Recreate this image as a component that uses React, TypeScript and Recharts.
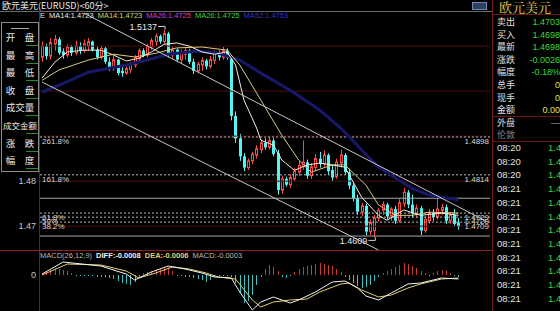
import React from "react";
import { ComposedChart, Bar, Line, XAxis, YAxis, ReferenceLine, ReferenceDot } from "recharts";

// 60-minute EURUSD candles
const opens = [
  1.5075, 1.51, 1.5078, 1.5105, 1.5115, 1.5088, 1.508, 1.5098, 1.5085, 1.51,
  1.509, 1.51, 1.511, 1.5092, 1.5075, 1.5095, 1.5065, 1.505, 1.507, 1.5045,
  1.504, 1.5048, 1.5058, 1.5072, 1.509, 1.508, 1.5098, 1.511, 1.5122, 1.511,
  1.5128, 1.508, 1.5092, 1.507, 1.5082, 1.509, 1.5065, 1.5045, 1.5058, 1.5068,
  1.5055, 1.5068, 1.5085, 1.5075, 1.509, 1.5075, 1.4945, 1.4895, 1.4855, 1.483,
  1.4845, 1.4858, 1.487, 1.4885, 1.4875, 1.489, 1.4862, 1.478, 1.4805, 1.4792,
  1.4805, 1.482, 1.4832, 1.4842, 1.4812, 1.483, 1.485, 1.4838, 1.4858, 1.4825,
  1.481, 1.484, 1.4858, 1.482, 1.479, 1.4762, 1.4732, 1.4745, 1.4688, 1.469,
  1.4718, 1.4735, 1.4748, 1.4722, 1.4738, 1.4712, 1.475, 1.4775, 1.4748, 1.4728,
  1.474, 1.469, 1.4712, 1.473, 1.472, 1.4735, 1.4742, 1.4712, 1.4725, 1.4708,
];
const highs = [
  1.511, 1.5105, 1.5118, 1.5125, 1.512, 1.5095, 1.5105, 1.5102, 1.5112, 1.5108,
  1.5115, 1.5118, 1.5112, 1.5098, 1.5102, 1.5098, 1.5075, 1.5078, 1.5072, 1.5055,
  1.5055, 1.5065, 1.508, 1.5095, 1.5095, 1.5105, 1.5118, 1.5128, 1.5126, 1.5137,
  1.5132, 1.5098, 1.5095, 1.5092, 1.5098, 1.5094, 1.5072, 1.5065, 1.5075, 1.5072,
  1.5078, 1.509, 1.509, 1.5098, 1.5095, 1.508, 1.4955, 1.4905, 1.4862, 1.485,
  1.4865, 1.488, 1.4892, 1.4895, 1.4898, 1.4895, 1.487, 1.4812, 1.481, 1.4815,
  1.483, 1.4845, 1.489, 1.4848, 1.484, 1.486, 1.4865, 1.4868, 1.4862, 1.4835,
  1.485, 1.487, 1.4862, 1.4828, 1.4798, 1.477, 1.4752, 1.475, 1.4715, 1.4725,
  1.474, 1.4755, 1.4752, 1.4742, 1.4745, 1.476, 1.4785, 1.478, 1.477, 1.4748,
  1.4745, 1.4722, 1.4738, 1.4738, 1.4762, 1.475, 1.4748, 1.4732, 1.4738, 1.4718,
];
const lows = [
  1.5065, 1.507, 1.507, 1.509, 1.508, 1.5072, 1.5075, 1.5078, 1.508, 1.5082,
  1.5085, 1.509, 1.5088, 1.507, 1.507, 1.506, 1.5045, 1.5045, 1.5035, 1.5032,
  1.5036, 1.504, 1.5052, 1.5065, 1.5075, 1.5075, 1.5092, 1.51, 1.5105, 1.5105,
  1.5075, 1.5072, 1.5065, 1.5062, 1.507, 1.506, 1.5038, 1.504, 1.5045, 1.5048,
  1.505, 1.506, 1.5068, 1.507, 1.507, 1.4935, 1.4885, 1.4845, 1.4822, 1.4825,
  1.4838, 1.485, 1.4862, 1.487, 1.487, 1.4855, 1.477, 1.4772, 1.4788, 1.4785,
  1.48, 1.4812, 1.4825, 1.4805, 1.4805, 1.4822, 1.483, 1.4832, 1.4815, 1.48,
  1.4805, 1.483, 1.4815, 1.4782, 1.4755, 1.4725, 1.4722, 1.468, 1.468, 1.4675,
  1.471, 1.4725, 1.4715, 1.4712, 1.4705, 1.4708, 1.4742, 1.474, 1.472, 1.472,
  1.468, 1.4685, 1.4705, 1.4712, 1.4715, 1.4725, 1.4705, 1.4705, 1.47, 1.4692,
];
const closes = [
  1.51, 1.5078, 1.5108, 1.5115, 1.5085, 1.508, 1.5098, 1.5085, 1.51, 1.509,
  1.5105, 1.511, 1.5092, 1.5075, 1.5095, 1.5065, 1.505, 1.507, 1.504, 1.504,
  1.505, 1.506, 1.5075, 1.509, 1.508, 1.51, 1.5112, 1.5122, 1.511, 1.5128,
  1.508, 1.5092, 1.507, 1.5085, 1.509, 1.5065, 1.5045, 1.506, 1.5068, 1.5055,
  1.507, 1.5085, 1.5075, 1.509, 1.5075, 1.4945, 1.4895, 1.4855, 1.483, 1.4845,
  1.486, 1.4872, 1.4885, 1.4875, 1.489, 1.486, 1.478, 1.4805, 1.4792, 1.4808,
  1.4822, 1.4835, 1.4842, 1.4812, 1.4832, 1.485, 1.4838, 1.4858, 1.4822, 1.4808,
  1.4842, 1.4858, 1.482, 1.479, 1.4762, 1.4732, 1.4745, 1.4688, 1.4708, 1.4718,
  1.4735, 1.4748, 1.4722, 1.4738, 1.4712, 1.4752, 1.4775, 1.4748, 1.4728, 1.474,
  1.469, 1.4715, 1.473, 1.472, 1.4738, 1.4742, 1.4712, 1.4725, 1.4705, 1.4698,
];

// moving averages: [bar index, price]
const maFast: [number, number][] = [
  [0, 1.5029], [3, 1.5064], [6, 1.5087], [10, 1.5091], [14, 1.5091], [17, 1.508], [20, 1.5067],
  [23, 1.5073], [26, 1.5087], [29, 1.5104], [32, 1.5107], [35, 1.51], [38, 1.5087], [41, 1.5082],
  [44, 1.5087], [46, 1.5058], [48, 1.498], [51, 1.4918], [52, 1.4891], [55, 1.488], [57, 1.4847],
  [60, 1.4824], [63, 1.4836], [66, 1.484], [69, 1.4836], [72, 1.4831], [76, 1.4764], [80, 1.4724],
  [82, 1.4713], [86, 1.4736], [90, 1.4724], [95, 1.4729], [99, 1.4724],
];
const maMid: [number, number][] = [
  [0, 1.5024], [4, 1.5047], [11, 1.5069], [17, 1.5082], [22, 1.5076], [27, 1.5084], [32, 1.5096],
  [38, 1.5098], [44, 1.5091], [47, 1.5058], [52, 1.498], [57, 1.4902], [61, 1.4847], [64, 1.482],
  [69, 1.4836], [72, 1.4836], [77, 1.4791], [80, 1.4747], [84, 1.4724], [88, 1.4724], [92, 1.4731],
  [99, 1.4729],
];
const maSlow: [number, number][] = [
  [0, 1.4998], [4, 1.5013], [11, 1.5042], [20, 1.5058], [25, 1.5069], [30, 1.5082], [37, 1.5089],
  [42, 1.5084], [47, 1.5069], [52, 1.504], [59, 1.5002], [66, 1.4958], [71, 1.4918], [76, 1.4869],
  [80, 1.4831], [88, 1.4784], [92, 1.4769], [99, 1.4758],
];

// MACD(26,12,9)
const diffPts: [number, number][] = [
  [0, 0.0002], [5, 0.0026], [14, 0.0018], [20, 0.0002], [22, -0.001], [26, 0.0006], [30, 0.0018],
  [34, 0.0012], [38, 0.0004], [41, -0.0004], [45, -0.0006], [47, -0.0034], [50, -0.007],
  [52, -0.0054], [55, -0.0044], [59, -0.0056], [61, -0.005], [65, -0.0034], [69, -0.0014],
  [72, -0.0012], [75, -0.0026], [77, -0.0042], [80, -0.005], [83, -0.0036], [87, -0.0018],
  [90, -0.0016], [95, -0.0006], [99, -0.0008],
];
const deaPts: [number, number][] = [
  [0, 0], [6, 0.0022], [14, 0.002], [20, 0.0008], [23, -0.0006], [27, 0.0004], [31, 0.0016],
  [35, 0.0012], [39, 0.0004], [42, -0.0004], [46, -0.0008], [50, -0.005], [52, -0.0064],
  [55, -0.0054], [59, -0.005], [63, -0.0048], [66, -0.0034], [71, -0.0018], [73, -0.0016],
  [76, -0.003], [80, -0.0044], [83, -0.004], [87, -0.0026], [90, -0.0018], [95, -0.0008],
  [99, -0.0006],
];
const hist = [
  0.0004, 0.0008, 0.001, 0.0012, 0.0012, 0.001, 0.0008, 0.0004,
  -0.0002, -0.0002, -0.0002, -0.0002, -0.0002, -0.0004, -0.0004, -0.0004, -0.0006, -0.0008,
  -0.0012, -0.0016, -0.0018, -0.002, -0.0014,
  -0.0004,
  0.0004, 0.0006, 0.0008, 0.001, 0.0012, 0.0014, 0.0016, 0.0008,
  -0.0002, -0.0002, -0.0004, -0.0004, -0.0006, -0.0008, -0.001, -0.0014, -0.001, -0.0004,
  -0.0002, -0.0002, -0.0002, -0.0004,
  -0.0016, -0.0036, -0.0056, -0.0052, -0.004, -0.002,
  -0.0004,
  0.0012, 0.002, 0.0016, 0.0008,
  -0.0004, -0.0006, -0.0002,
  0.0006, 0.0012, 0.0016, 0.0018, 0.002, 0.0022, 0.0024, 0.0022, 0.002, 0.0018, 0.0012, 0.0006,
  -0.0004, -0.001, -0.0016, -0.0022, -0.0026, -0.0024, -0.002, -0.0012, -0.0004,
  0.0004, 0.0008, 0.0012, 0.0016, 0.002, 0.0024, 0.0022, 0.0018, 0.0014, 0.0008, 0.0004,
  -0.0002,
  0.0004, 0.0008, 0.001, 0.0008, 0.0004,
  -0.0002, -0.0004,
];

// Fibonacci levels
const fibDashed = [1.4898, 1.4814, 1.4729, 1.472, 1.4709];
const fibPct = ["261.8%", "161.8%", "61.8%", "50%", "38.2%"];
const fibSolid = [1.4762, 1.4678];
const gridPrices = [1.47, 1.48, 1.49, 1.5, 1.51];
const priceTicks = [1.47, 1.48];

const peak = { i: 29, price: 1.5137, text: "1.5137" };
const trough = { i: 79, price: 1.4675, text: "1.4609" };
const trendUpper = [{ x: 10, y: 1.5173 }, { x: 106, y: 1.4709 }];
const trendLower = [{ x: 0, y: 1.502 }, { x: 80, y: 1.4647 }];

const slots = Array.from({ length: 107 }, (_, i) => i);

const rows: any[] = slots.map((t) => ({
  t,
  range: t < closes.length ? [lows[t], highs[t]] : null,
  open: opens[t],
  high: highs[t],
  low: lows[t],
  close: closes[t],
  hist: hist[t],
}));
maFast.forEach(([i, v]) => (rows[i].fast = v));
maMid.forEach(([i, v]) => (rows[i].mid = v));
maSlow.forEach(([i, v]) => (rows[i].slow = v));
diffPts.forEach(([i, v]) => (rows[i].diff = v));
deaPts.forEach(([i, v]) => (rows[i].dea = v));

const MONO = "'Liberation Sans', Arial, sans-serif";
const CJK = "'Noto Sans CJK SC', sans-serif";

function Candle(props: any) {
  const { x, y, width, height, payload } = props;
  if (!payload || payload.close == null) return null;
  const { open, close, high, low } = payload;
  const k = high > low ? height / (high - low) : 0;
  const py = (v: number) => y + (high - v) * k;
  const cx = Math.round(x + width / 2) + 0.5;
  const up = close >= open;
  const top = py(Math.max(open, close));
  const bot = Math.max(py(Math.min(open, close)), top + 1);
  if (up) {
    const c = "#ff4848";
    return (
      <g>
        <line x1={cx} x2={cx} y1={y} y2={top} stroke={c} />
        <line x1={cx} x2={cx} y1={bot} y2={y + height} stroke={c} />
        <rect x={cx - 1} y={top} width={2} height={bot - top} fill="none" stroke={c} />
      </g>
    );
  }
  const c = "#54f4f4";
  return (
    <g>
      <line x1={cx} x2={cx} y1={y} y2={y + height} stroke={c} />
      <rect x={cx - 1.5} y={top} width={3} height={bot - top} fill={c} />
    </g>
  );
}

function HistBar(props: any) {
  const { x, y, width, height, payload } = props;
  if (!payload || payload.hist == null) return null;
  const cx = Math.round(x + width / 2) + 0.5;
  return (
    <line x1={cx} x2={cx} y1={y} y2={y + height} stroke={payload.hist >= 0 ? "#c83838" : "#3cc4c4"} />
  );
}

function FibLabel(props: any) {
  const { viewBox, left, right } = props;
  if (!viewBox) return null;
  const { x, y, width } = viewBox;
  return (
    <g fontFamily={MONO} fontSize={8} fill="#d8d8d8">
      {left && <text x={x + 2} y={y + 7}>{left}</text>}
      {right && <text x={x + width - 1} y={y + 7} textAnchor="end">{right}</text>}
    </g>
  );
}

function PeakLabel(props: any) {
  const { viewBox, text, below } = props;
  if (!viewBox) return null;
  const cx = viewBox.x + viewBox.width / 2;
  const cy = viewBox.y + viewBox.height / 2;
  const ly = below ? cy + 3 : cy - 3;
  return (
    <g>
      <text x={cx - 7} y={ly + 3.5} textAnchor="end" fontFamily={MONO} fontSize={9} fill="#e8e8e8">
        {text}
      </text>
      <polyline points={`${cx - 6},${ly} ${cx + 1},${ly} ${cx + 1},${cy}`} fill="none" stroke="#d0d0d0" />
    </g>
  );
}

const leftButtons = ["开　盘", "最　高", "最　低", "收　盘", "成交量", "成交金额", "涨　跌", "幅　度"];
const quoteRows = [
  ["卖出", "1.4703", "#38d838"],
  ["买入", "1.4698", "#38d838"],
  ["最新", "1.4698", "#38d838"],
  ["涨跌", "-0.0026", "#38d838"],
  ["幅度", "-0.18%", "#38d838"],
  ["总手", "0", "#e8e050"],
  ["现手", "0", "#e8e050"],
  ["金额", "0.00", "#e8e050"],
  ["外盘", "—", "#b0b0b0"],
  ["伦敦", "", "#808080"],
];
const tickTimes = ["08:20", "08:20", "08:20", "08:21", "08:21", "08:21", "08:21", "08:21", "08:21", "08:21", "08:21", "08:21"];

const legendItems = [
  ["E", "#e8e8e8"],
  ["MA14:1.4723", "#e8e8e8"],
  ["MA14:1.4723", "#d8d860"],
  ["MA26:1.4725", "#d040d0"],
  ["MA26:1.4725", "#40d040"],
  ["MA52:1.4753", "#3434c8"],
];
const macdItems = [
  ["MACD(26,12,9)", "#b8b8b8", 400],
  ["DIFF:-0.0008", "#f0f0f0", 700],
  ["DEA:-0.0006", "#e0d070", 700],
  ["MACD:-0.0003", "#b8b8b8", 400],
];

const abs = (l: number, t: number, w: number, h: number, extra: any = {}) => ({
  position: "absolute" as const, left: l, top: t, width: w, height: h, ...extra,
});

export default function App() {
  return (
    <div style={{ ...abs(0, 0, 560, 311), background: "#000", overflow: "hidden", fontFamily: MONO }}>
      <div style={abs(0, 0, 490, 250)}>
        <ComposedChart width={490} height={250} data={rows} margin={{ top: 11, right: 0, left: 0, bottom: 0 }} barCategoryGap={0}>
          <XAxis dataKey="t" hide />
          <YAxis
            domain={[1.4647, 1.5178]}
            allowDataOverflow
            ticks={priceTicks}
            width={40}
            tickSize={2}
            axisLine={false}
            tickLine={false}
            tickFormatter={(v: number) => v.toFixed(2)}
            tick={{ fill: "#c8c8c8", fontSize: 9, fontFamily: MONO }}
          />
          {gridPrices.map((p) => (
            <ReferenceLine key={"g" + p} y={p} stroke="#4a1010" />
          ))}
          {fibSolid.map((p) => (
            <ReferenceLine key={"s" + p} y={p} stroke="#a8a8a8" />
          ))}
          {fibDashed.map((p, k) => (
            <ReferenceLine
              key={"d" + p}
              y={p}
              stroke="#b8b8b8"
              strokeDasharray="2 2"
              label={<FibLabel left={fibPct[k]} right={fibDashed[k].toFixed(4)} />}
            />
          ))}
          <Line dataKey="slow" stroke="#18186a" strokeWidth={3} dot={false} connectNulls isAnimationActive={false} />
          <Bar dataKey="range" shape={(p: any) => <Candle {...p} />} isAnimationActive={false} />
          <Line dataKey="mid" stroke="#d8cc80" strokeWidth={1} dot={false} connectNulls isAnimationActive={false} />
          <Line dataKey="fast" stroke="#f4ecd8" strokeWidth={1} dot={false} connectNulls isAnimationActive={false} />
          <ReferenceLine segment={trendUpper} stroke="#c8c8c8" />
          <ReferenceLine segment={trendLower} stroke="#c8c8c8" />
          <ReferenceDot x={peak.i} y={peak.price} r={1} fill="none" stroke="none" label={<PeakLabel text={peak.text} />} />
          <ReferenceDot x={trough.i} y={trough.price} r={1} fill="none" stroke="none" label={<PeakLabel text={trough.text} below />} />
        </ComposedChart>
      </div>

      <div style={abs(0, 250, 490, 61)}>
        <ComposedChart width={490} height={61} data={rows} margin={{ top: 0, right: 0, left: 0, bottom: 0 }} barCategoryGap={0}>
          <XAxis dataKey="t" hide />
          <YAxis
            domain={[-0.0072, 0.005]}
            allowDataOverflow
            ticks={[0]}
            width={40}
            tickSize={2}
            axisLine={false}
            tickLine={false}
            tickFormatter={() => "0"}
            tick={{ fill: "#c8c8c8", fontSize: 9, fontFamily: MONO }}
          />
          <Bar dataKey="hist" shape={(p: any) => <HistBar {...p} />} isAnimationActive={false} />
          <Line dataKey="dea" stroke="#e0d070" dot={false} connectNulls isAnimationActive={false} />
          <Line dataKey="diff" stroke="#f4f4f4" dot={false} connectNulls isAnimationActive={false} />
        </ComposedChart>
      </div>

      {/* frame lines */}
      <div style={abs(0, 11, 492, 1, { background: "#6a6a6a" })} />
      <div style={abs(39, 11, 1, 300, { background: "#7a1c1c" })} />
      <div style={abs(0, 250, 492, 1, { background: "#8a2020" })} />
      <div style={abs(492, 0, 1, 311, { background: "#7a1c1c" })} />

      {/* title */}
      <div style={abs(2, 0, 200, 11, { color: "#e8e8e8", fontSize: 9, lineHeight: "11px", fontFamily: CJK, whiteSpace: "nowrap" })}>
        欧元美元(EURUSD)&lt;60分&gt;
      </div>
      <div style={abs(472, 2, 15, 8, { border: "1px solid #7088b0", background: "#304060", boxSizing: "border-box" })} />

      {/* MA legend */}
      <div style={abs(40, 11, 450, 10, { fontSize: 7.5, lineHeight: "10px", whiteSpace: "nowrap", display: "flex", gap: 4 })}>
        {legendItems.map(([t, c], k) => (
          <span key={k} style={{ color: c }}>{t}</span>
        ))}
      </div>

      {/* MACD legend */}
      <div style={abs(40, 251, 450, 10, { fontSize: 7.5, lineHeight: "10px", whiteSpace: "nowrap", display: "flex", gap: 4 })}>
        {macdItems.map(([t, c, w], k) => (
          <span key={k} style={{ color: c as string, fontWeight: w as number }}>{t}</span>
        ))}
      </div>

      {/* left buttons */}
      <div style={abs(1, 22, 38, 150, { border: "1px solid #8a8a8a", boxSizing: "border-box", background: "#000" })}>
        <div style={abs(9, 5, 18, 1, { background: "#b0b0b0" })} />
        {leftButtons.map((b, k) => (
          <div key={b}>
            <div style={abs(0, 7 + k * 17.6, 36, 14, { color: "#e8e8e8", fontSize: b.length > 3 ? 8.5 : 9.5, fontFamily: CJK, lineHeight: "14px", textAlign: "center", whiteSpace: "nowrap" })}>
              {b}
            </div>
            <div style={abs(24, 22 + k * 17.6, 12, 1, { background: "#2a8a2a" })} />
          </div>
        ))}
      </div>

      {/* right quote panel */}
      <div style={abs(493, 0, 70, 311, { fontFamily: CJK })}>
        <div style={abs(6, -1, 70, 15, { color: "#e8d860", fontSize: 13, lineHeight: "15px", fontFamily: "'Noto Serif CJK SC', 'Noto Sans CJK SC', serif", whiteSpace: "nowrap" })}>
          欧元美元
        </div>
        <div style={abs(0, 14, 70, 1, { background: "#6a1818" })} />
        {quoteRows.map(([l, v, c], k) => (
          <div key={l}>
            <div style={abs(4, 16 + k * 12.6, 30, 12, { color: k === 9 ? "#808080" : "#e0e0e0", fontSize: 9, lineHeight: "12px" })}>{l}</div>
            <div style={abs(20, 16 + k * 12.6, 47, 12, { color: c, fontSize: 9, lineHeight: "12px", textAlign: "right", fontFamily: MONO })}>{v}</div>
          </div>
        ))}
        <div style={abs(0, 116, 70, 1, { background: "#6a1818" })} />
        <div style={abs(0, 141, 70, 1, { background: "#6a1818" })} />
        {tickTimes.map((tm, k) => (
          <div key={k}>
            <div style={abs(4, 142 + k * 13.7, 30, 12, { color: "#e0e0e0", fontSize: 9.5, lineHeight: "12px", fontFamily: MONO })}>{tm}</div>
            <div style={abs(55, 142 + k * 13.7, 20, 12, { color: "#38d838", fontSize: 9.5, lineHeight: "12px", fontFamily: MONO })}>1.4</div>
          </div>
        ))}
      </div>
    </div>
  );
}
